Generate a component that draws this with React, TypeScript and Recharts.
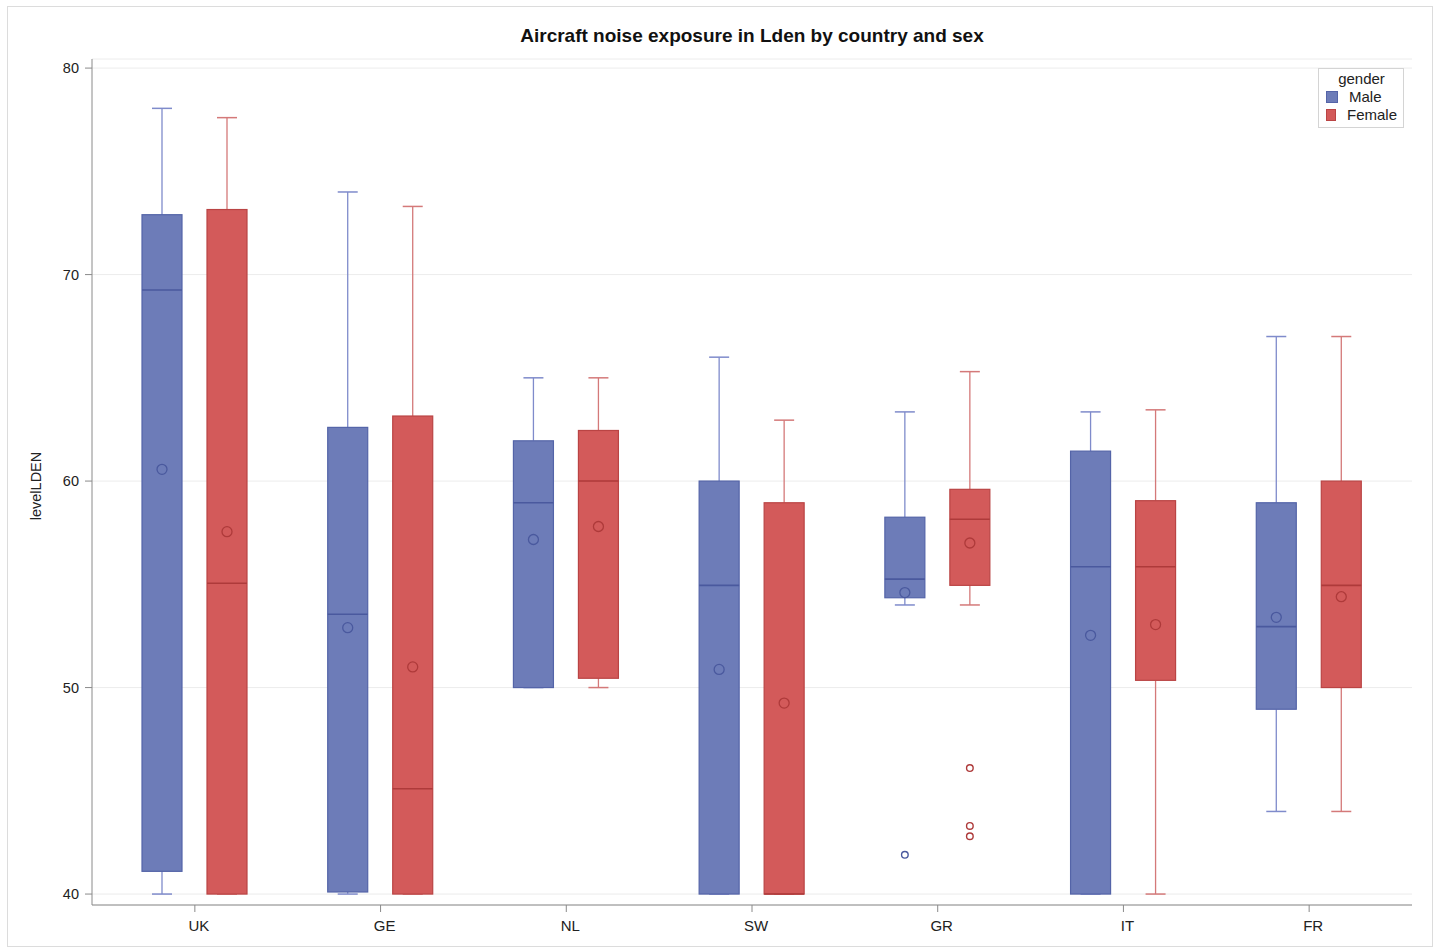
import React from 'react';
import { ComposedChart, Bar, XAxis, YAxis, CartesianGrid, Legend } from 'recharts';

// ---- data ----
const countries = ['UK', 'GE', 'NL', 'SW', 'GR', 'IT', 'FR'];
const genders = ['Male', 'Female'];

const maleLow = [40, 40, 50, 40, 54, 40, 44];
const maleQ1 = [41.1, 40.1, 50, 40, 54.35, 40, 48.95];
const maleMedian = [69.25, 53.55, 58.95, 54.95, 55.25, 55.85, 52.95];
const maleQ3 = [72.9, 62.6, 61.95, 60, 58.25, 61.45, 58.95];
const maleHigh = [78.05, 74, 65, 66, 63.35, 63.35, 67];
const maleMean = [60.57, 52.9, 57.17, 50.88, 54.6, 52.53, 53.4];
const maleOutliers: number[][] = [[], [], [], [], [41.9], [], []];

const femaleLow = [40, 40, 50, 40, 54, 40, 44];
const femaleQ1 = [40, 40, 50.45, 40, 54.95, 50.35, 50];
const femaleMedian = [55.05, 45.1, 60, 40, 58.15, 55.85, 54.95];
const femaleQ3 = [73.15, 63.15, 62.45, 58.95, 59.6, 59.05, 60];
const femaleHigh = [77.6, 73.3, 65, 62.95, 65.3, 63.45, 67];
const femaleMean = [57.55, 51.0, 57.8, 49.25, 57.0, 53.05, 54.4];
const femaleOutliers: number[][] = [[], [], [], [], [46.1, 43.3, 42.8], [], []];

const yTicks = [40, 50, 60, 70, 80];
const yDomain: [number, number] = [39.47, 80.44];

const data = countries.map((c, i) => ({
  country: c,
  m: { low: maleLow[i], q1: maleQ1[i], med: maleMedian[i], q3: maleQ3[i], high: maleHigh[i], mean: maleMean[i], out: maleOutliers[i] },
  f: { low: femaleLow[i], q1: femaleQ1[i], med: femaleMedian[i], q3: femaleQ3[i], high: femaleHigh[i], mean: femaleMean[i], out: femaleOutliers[i] },
}));

const FONT = "Arial, 'Liberation Sans', Helvetica, sans-serif";

const MALE = { fill: '#6D7CB8', stroke: '#5464A8', whisker: '#7F8BCB', dark: '#4A599E' };
const FEMALE = { fill: '#D35A5A', stroke: '#BA4444', whisker: '#D47979', dark: '#AE3A3A' };

function BoxShape(props: any) {
  const { x, y, width, height, payload, sex } = props;
  const s = payload[sex];
  const col = sex === 'm' ? MALE : FEMALE;
  const top = Math.min(y, y + height);
  const h = Math.abs(height);
  const k = h / (s.q3 - s.q1);
  const Y = (v: number) => top + (s.q3 - v) * k;
  const cx = x + width / 2;
  const cap = 10;
  return (
    <g>
      <line x1={cx} x2={cx} y1={Y(s.q3)} y2={Y(s.high)} stroke={col.whisker} strokeWidth={1.3} />
      <line x1={cx - cap} x2={cx + cap} y1={Y(s.high)} y2={Y(s.high)} stroke={col.whisker} strokeWidth={1.5} />
      <line x1={cx} x2={cx} y1={Y(s.q1)} y2={Y(s.low)} stroke={col.whisker} strokeWidth={1.3} />
      <line x1={cx - cap} x2={cx + cap} y1={Y(s.low)} y2={Y(s.low)} stroke={col.whisker} strokeWidth={1.5} />
      <rect x={x} y={top} width={width} height={h} fill={col.fill} stroke={col.stroke} strokeWidth={1.2} />
      <line x1={x} x2={x + width} y1={Y(s.med)} y2={Y(s.med)} stroke={col.dark} strokeWidth={1.6} />
      <circle cx={cx} cy={Y(s.mean)} r={5} fill="none" stroke={col.dark} strokeWidth={1.3} />
      {s.out.map((v: number, i: number) => (
        <circle key={i} cx={cx} cy={Y(v)} r={3.3} fill="none" stroke={col.dark} strokeWidth={1.4} />
      ))}
    </g>
  );
}

function LegendBox(props: any) {
  const payload = [...(props.payload || [])].sort(
    (a: any, b: any) => genders.indexOf(a.value) - genders.indexOf(b.value)
  );
  return (
    <div
      style={{
        border: '1px solid #d4d4d4',
        background: '#fff',
        fontFamily: FONT,
        fontSize: 15,
        color: '#222',
        padding: '1px 6px 3px 7px',
        lineHeight: '18px',
        boxSizing: 'border-box',
        width: 86,
      }}
    >
      <div style={{ textAlign: 'center' }}>gender</div>
      {payload.map((p: any) => (
        <div key={p.value} style={{ display: 'flex', alignItems: 'center' }}>
          <span
            style={{
              display: 'inline-block',
              width: 10,
              height: 10,
              background: p.value === 'Male' ? MALE.fill : FEMALE.fill,
              border: '1px solid ' + (p.value === 'Male' ? MALE.stroke : FEMALE.stroke),
              marginRight: 11,
            }}
          />
          <span>{p.value}</span>
        </div>
      ))}
    </div>
  );
}

export default function App() {
  return (
    <div style={{ position: 'absolute', left: 0, top: 0, width: 1438, height: 952, background: '#fff', fontFamily: FONT }}>
      <div
        style={{
          position: 'absolute',
          left: 7,
          top: 6,
          width: 1424,
          height: 939,
          border: '1px solid #dcdcdc',
        }}
      />
      <div
        style={{
          position: 'absolute',
          left: 92,
          width: 1320,
          top: 25,
          textAlign: 'center',
          fontSize: 19,
          fontWeight: 'bold',
          color: '#111',
          fontFamily: FONT,
        }}
      >
        Aircraft noise exposure in Lden by country and sex
      </div>
      <div style={{ position: 'absolute', left: 0, top: 0 }}>
        <ComposedChart
          width={1438}
          height={952}
          data={data}
          margin={{ top: 59, right: 26, bottom: 7, left: 0 }}
          barSize={40}
          barGap={25}
        >
          <CartesianGrid vertical={false} stroke="#ececec" />
          <XAxis
            dataKey="country"
            padding={{ left: 10, right: 10 }}
            height={40}
            tickSize={7}
            tickMargin={8}
            tickLine={{ stroke: '#8a8a8a' }}
            axisLine={{ stroke: '#8a8a8a' }}
            tick={{ fill: '#222', fontSize: 15, fontFamily: FONT, dx: 4 }}
            interval={0}
          />
          <XAxis
            xAxisId="top"
            dataKey="country"
            orientation="top"
            height={0}
            tick={false}
            tickLine={false}
            axisLine={{ stroke: '#8a8a8a' }}
          />
          <YAxis
            type="number"
            domain={yDomain}
            ticks={yTicks}
            allowDataOverflow
            width={92}
            tickSize={7}
            tickMargin={6}
            tickLine={{ stroke: '#8a8a8a' }}
            axisLine={{ stroke: '#8a8a8a' }}
            tick={{ fill: '#222', fontSize: 14.5, fontFamily: FONT }}
            label={{
              content: () => (
                <text
                  x={36}
                  y={486}
                  transform="rotate(-90 36 486)"
                  textAnchor="middle"
                  dominantBaseline="central"
                  fontSize={14.5}
                  fontFamily={FONT}
                  fill="#222"
                >
                  levelLDEN
                </text>
              ),
            }}
          />
          <YAxis
            yAxisId="right"
            orientation="right"
            type="number"
            domain={yDomain}
            allowDataOverflow
            width={0}
            tick={false}
            tickLine={false}
            axisLine={{ stroke: '#8a8a8a' }}
          />
          <Legend
            layout="horizontal"
            verticalAlign="middle"
            align="center"
            wrapperStyle={{ left: 1318, top: 68, width: 86 }}
            content={<LegendBox />}
          />
          <Bar
            name="Male"
            dataKey={(d: any) => [d.m.q1, d.m.q3]}
            fill={MALE.fill}
            isAnimationActive={false}
            shape={(p: any) => <BoxShape {...p} sex="m" />}
          />
          <Bar
            name="Female"
            dataKey={(d: any) => [d.f.q1, d.f.q3]}
            fill={FEMALE.fill}
            isAnimationActive={false}
            shape={(p: any) => <BoxShape {...p} sex="f" />}
          />
        </ComposedChart>
      </div>
    </div>
  );
}
